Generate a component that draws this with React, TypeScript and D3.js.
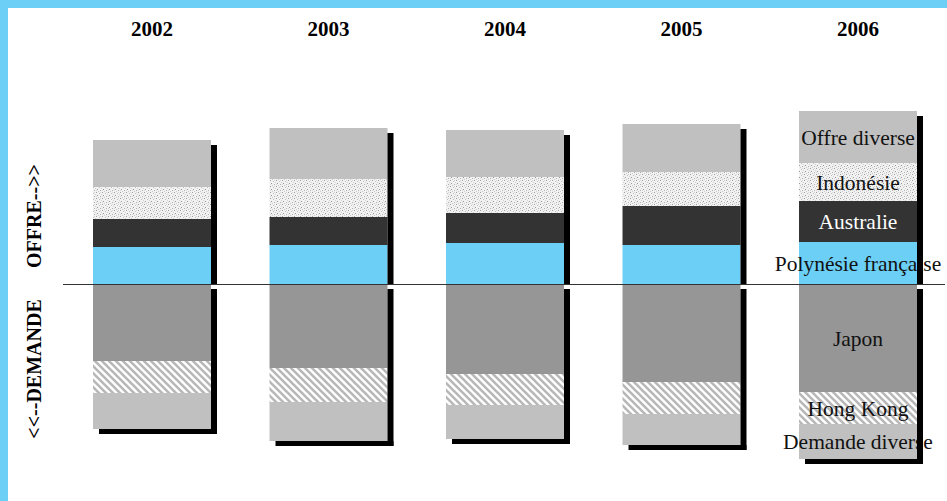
import React from "react";
import * as d3 from "d3";

const years = ["2002", "2003", "2004", "2005", "2006"];
// Offre (above the line), from the line upward
const offreSeries = ["Polynésie française", "Australie", "Indonésie", "Offre diverse"];
const polynesie = [37, 39, 41, 39, 42];
const australie = [28, 28, 30, 39, 41];
const indonesie = [32, 38, 36, 34, 38];
const offreDiverse = [47, 51, 47, 48, 52];
// Demande (below the line), from the line downward
const demandeSeries = ["Japon", "Hong Kong", "Demande diverse"];
const japon = [77, 84, 90, 98, 108];
const hongKong = [32, 34, 31, 32, 32];
const demandeDiverse = [36, 39, 34, 31, 35];

const labelYear = "2006";
const axisTitleUp = "OFFRE-->>";
const axisTitleDown = "<<--DEMANDE";

const W = 947;
const H = 501;

const fills: Record<string, string> = {
  "Polynésie française": "#6ccff6",
  Australie: "#333333",
  Indonésie: "url(#dots)",
  "Offre diverse": "#c0c0c0",
  Japon: "#969696",
  "Hong Kong": "url(#stripes)",
  "Demande diverse": "#c0c0c0",
};
const textColors: Record<string, string> = { Australie: "#ffffff" };

export default function App() {
  const x = d3.scaleBand<string>().domain(years).range([93, 917]).paddingInner(0.3315).paddingOuter(0);
  const y = d3.scaleLinear().domain([0, 100]).range([284, 184]);
  const bw = x.bandwidth();
  const offreVals = [polynesie, australie, indonesie, offreDiverse];
  const demandeVals = [japon, hongKong, demandeDiverse];

  const serif = "'Liberation Serif', 'Times New Roman', serif";

  return (
    <svg width={W} height={H} style={{ position: "absolute", left: 0, top: 0, display: "block" }}>
      <defs>
        <pattern id="dots" width="6" height="6" patternUnits="userSpaceOnUse">
          <rect width="6" height="6" fill="#f2f2f2" />
          <rect x="0" y="0" width="1" height="1" fill="#a0a0a0" />
          <rect x="3" y="1" width="1" height="1" fill="#c0c0c0" />
          <rect x="1" y="3" width="1" height="1" fill="#989898" />
          <rect x="4" y="4" width="1" height="1" fill="#b0b0b0" />
          <rect x="5" y="2" width="1" height="1" fill="#d0d0d0" />
          <rect x="2" y="5" width="1" height="1" fill="#c8c8c8" />
          <rect x="4" y="0" width="1" height="1" fill="#d8d8d8" />
          <rect x="0" y="4" width="1" height="1" fill="#dadada" />
        </pattern>
        <pattern id="stripes" width="7" height="7" patternUnits="userSpaceOnUse">
          <rect width="7" height="7" fill="#ffffff" />
          <path d="M-1,-1 L8,8 M-2,5 L2,9 M5,-2 L9,2" stroke="#b8b8b8" strokeWidth="2.6" />
        </pattern>
      </defs>
      <rect x={0} y={0} width={W} height={H} fill="#6ccff6" />
      <rect x={8} y={8} width={W} height={H} fill="#ffffff" />

      {years.map((yr, i) => {
        const bx = x(yr)!;
        let acc = 0;
        const up = offreVals.map((arr, k) => {
          const y0 = y(acc);
          acc += arr[i];
          const y1 = y(acc);
          return { name: offreSeries[k], top: y1, bottom: y0 };
        });
        const upTop = y(acc);
        let accD = 0;
        const down = demandeVals.map((arr, k) => {
          const y0 = y(-accD);
          accD += arr[i];
          const y1 = y(-accD);
          return { name: demandeSeries[k], top: y0, bottom: y1 };
        });
        const downBottom = y(-accD);
        const base = y(0);
        const segs = [...up, ...down];
        return (
          <g key={yr}>
            {segs.map((s) => (
              <rect key={s.name} x={bx} y={s.top} width={bw} height={s.bottom - s.top} fill={fills[s.name]} />
            ))}
            {yr === labelYear &&
              segs.map((s) => (
                <text
                  key={"t" + s.name}
                  x={bx + bw / 2}
                  y={(s.top + s.bottom) / 2}
                  dy="0.35em"
                  textAnchor="middle"
                  fontFamily={serif}
                  fontSize={21.5}
                  fill={textColors[s.name] || "#111111"}
                >
                  {s.name}
                </text>
              ))}
            {/* shadows */}
            <rect x={bx + bw} y={upTop + 5} width={6} height={base - upTop - 5} fill="#000" />
            <rect x={bx + bw} y={base + 5} width={6} height={downBottom - base} fill="#000" />
            <rect x={bx + 6} y={downBottom} width={bw} height={5} fill="#000" />
            <text
              x={bx + bw / 2}
              y={35.5}
              textAnchor="middle"
              fontFamily={serif}
              fontWeight="bold"
              fontSize={21}
              fill="#000"
            >
              {yr}
            </text>
          </g>
        );
      })}

      <line x1={63} x2={945} y1={y(0) + 0.5} y2={y(0) + 0.5} stroke="#333" strokeWidth={1} />

      <text
        transform={`translate(41,216) rotate(-90)`}
        textAnchor="middle"
        fontFamily={serif}
        fontWeight="bold"
        fontSize={20}
        fill="#000"
      >
        {axisTitleUp}
      </text>
      <text
        transform={`translate(41,369) rotate(-90)`}
        textAnchor="middle"
        fontFamily={serif}
        fontWeight="bold"
        fontSize={20}
        fill="#000"
      >
        {axisTitleDown}
      </text>
    </svg>
  );
}
